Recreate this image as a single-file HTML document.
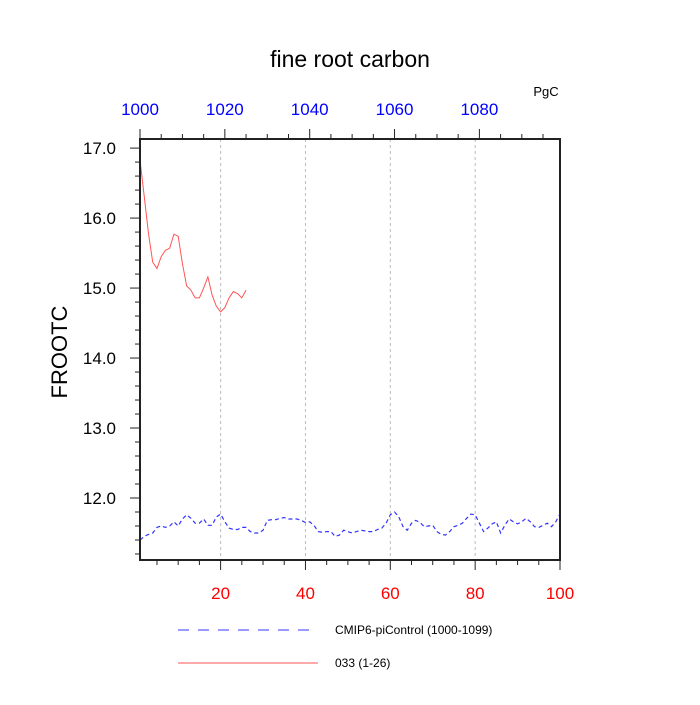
<!DOCTYPE html>
<html><head><meta charset="utf-8"><style>
body{margin:0;background:#fff}
svg{font-family:"Liberation Sans",sans-serif}
</style></head><body>
<svg id="chart" width="700" height="700" viewBox="0 0 700 700" xmlns="http://www.w3.org/2000/svg">
<text x="350" y="67" font-size="23" text-anchor="middle">fine root carbon</text>
<text x="546" y="96" font-size="13" text-anchor="middle">PgC</text>
<text transform="translate(67,352) rotate(-90)" font-size="22" text-anchor="middle">FROOTC</text>
<g id="grid"></g>
<g id="axes"></g>
<g id="series"></g>
<rect x="140" y="139" width="420" height="421" fill="none" stroke="#222" stroke-width="2"/>
<g>
<line x1="178" y1="630" x2="318" y2="630" stroke="#3333ff" stroke-dasharray="11,9"/>
<text x="335" y="634" font-size="12">CMIP6-piControl (1000-1099)</text>
<line x1="178" y1="663" x2="318" y2="663" stroke="#ff5555"/>
<text x="335" y="667" font-size="12">033 (1-26)</text>
</g>
</svg>
<script>
const blueValues=[11.40,11.45,11.48,11.50,11.58,11.60,11.58,11.60,11.66,11.60,11.70,11.76,11.71,11.64,11.64,11.70,11.61,11.61,11.73,11.77,11.66,11.57,11.55,11.55,11.58,11.58,11.52,11.50,11.50,11.54,11.68,11.69,11.69,11.71,11.72,11.70,11.70,11.70,11.68,11.65,11.66,11.61,11.52,11.51,11.52,11.52,11.45,11.47,11.54,11.52,11.50,11.52,11.54,11.53,11.52,11.52,11.55,11.57,11.64,11.76,11.80,11.73,11.59,11.54,11.64,11.68,11.65,11.59,11.60,11.61,11.52,11.48,11.47,11.52,11.59,11.61,11.64,11.71,11.77,11.76,11.64,11.52,11.57,11.63,11.66,11.50,11.61,11.70,11.66,11.63,11.66,11.71,11.66,11.59,11.58,11.61,11.64,11.59,11.66,11.77];
const redValues=[16.83,16.31,15.78,15.37,15.28,15.45,15.54,15.57,15.77,15.74,15.35,15.03,14.97,14.86,14.86,15.00,15.16,14.90,14.74,14.66,14.72,14.86,14.95,14.92,14.86,14.97];
const xTicks=[20,40,60,80,100];
const topTicks=[1000,1020,1040,1060,1080];
const yTicks=[12.0,13.0,14.0,15.0,16.0,17.0];
const NS="http://www.w3.org/2000/svg";
const X0=140,X1=560,Y0=139,Y1=560,XMIN=1,XMAX=100,YMIN=11.114,YMAX=17.13;
const xs=v=>X0+(v-XMIN)/(XMAX-XMIN)*(X1-X0);
const ys=v=>Y1-(v-YMIN)/(YMAX-YMIN)*(Y1-Y0);
function mk(tag,attrs,parent){const e=document.createElementNS(NS,tag);for(const k in attrs)e.setAttribute(k,attrs[k]);parent.appendChild(e);return e;}
const grid=document.getElementById('grid'),axes=document.getElementById('axes'),series=document.getElementById('series');
[20,40,60,80].forEach(v=>{const l=mk('line',{x1:xs(v),x2:xs(v),y1:Y0,y2:Y1,stroke:'#bbb','stroke-dasharray':'3,3'},grid);

});
for(let v=5;v<=100;v+=5){const maj=v%20===0;const l=mk('line',{x1:xs(v),x2:xs(v),y1:Y1,y2:Y1+(maj?10:5),stroke:'#222','stroke-width':1},axes);

}
xTicks.forEach(v=>{const t=mk('text',{x:xs(v),y:Y1+39,'font-size':17,fill:'#ff0000','text-anchor':'middle'},axes);t.textContent=v;

});
for(let v=1000;v<1100;v+=5){const maj=v%20===0;const x=xs(v-999);if(x>X1+0.5)continue;const l=mk('line',{x1:x,x2:x,y1:Y0,y2:Y0-(maj?10:5),stroke:'#222'},axes);

}
topTicks.forEach(v=>{const t=mk('text',{x:xs(v-999),y:115,'font-size':17,fill:'#0000ff','text-anchor':'middle'},axes);t.textContent=v;

});
for(let v=11.2;v<=17.1;v+=0.2){const maj=Math.abs(v-Math.round(v))<0.01;const l=mk('line',{x1:X0,x2:X0-(maj?10:5),y1:ys(v),y2:ys(v),stroke:'#222'},axes);

}
yTicks.forEach(v=>{const t=mk('text',{x:X0-24,y:ys(v)+6,'font-size':17,'text-anchor':'end'},axes);t.textContent=v.toFixed(1);

});
const bp=mk('polyline',{points:blueValues.map((v,i)=>xs(i+1)+','+ys(v)).join(' '),fill:'none',stroke:'#3333ff','stroke-width':1.2,'stroke-dasharray':'4,3'},series);


const rp=mk('polyline',{points:redValues.map((v,i)=>xs(i+1)+','+ys(v)).join(' '),fill:'none',stroke:'#ff5555','stroke-width':1},series);


</script>
</body></html>
